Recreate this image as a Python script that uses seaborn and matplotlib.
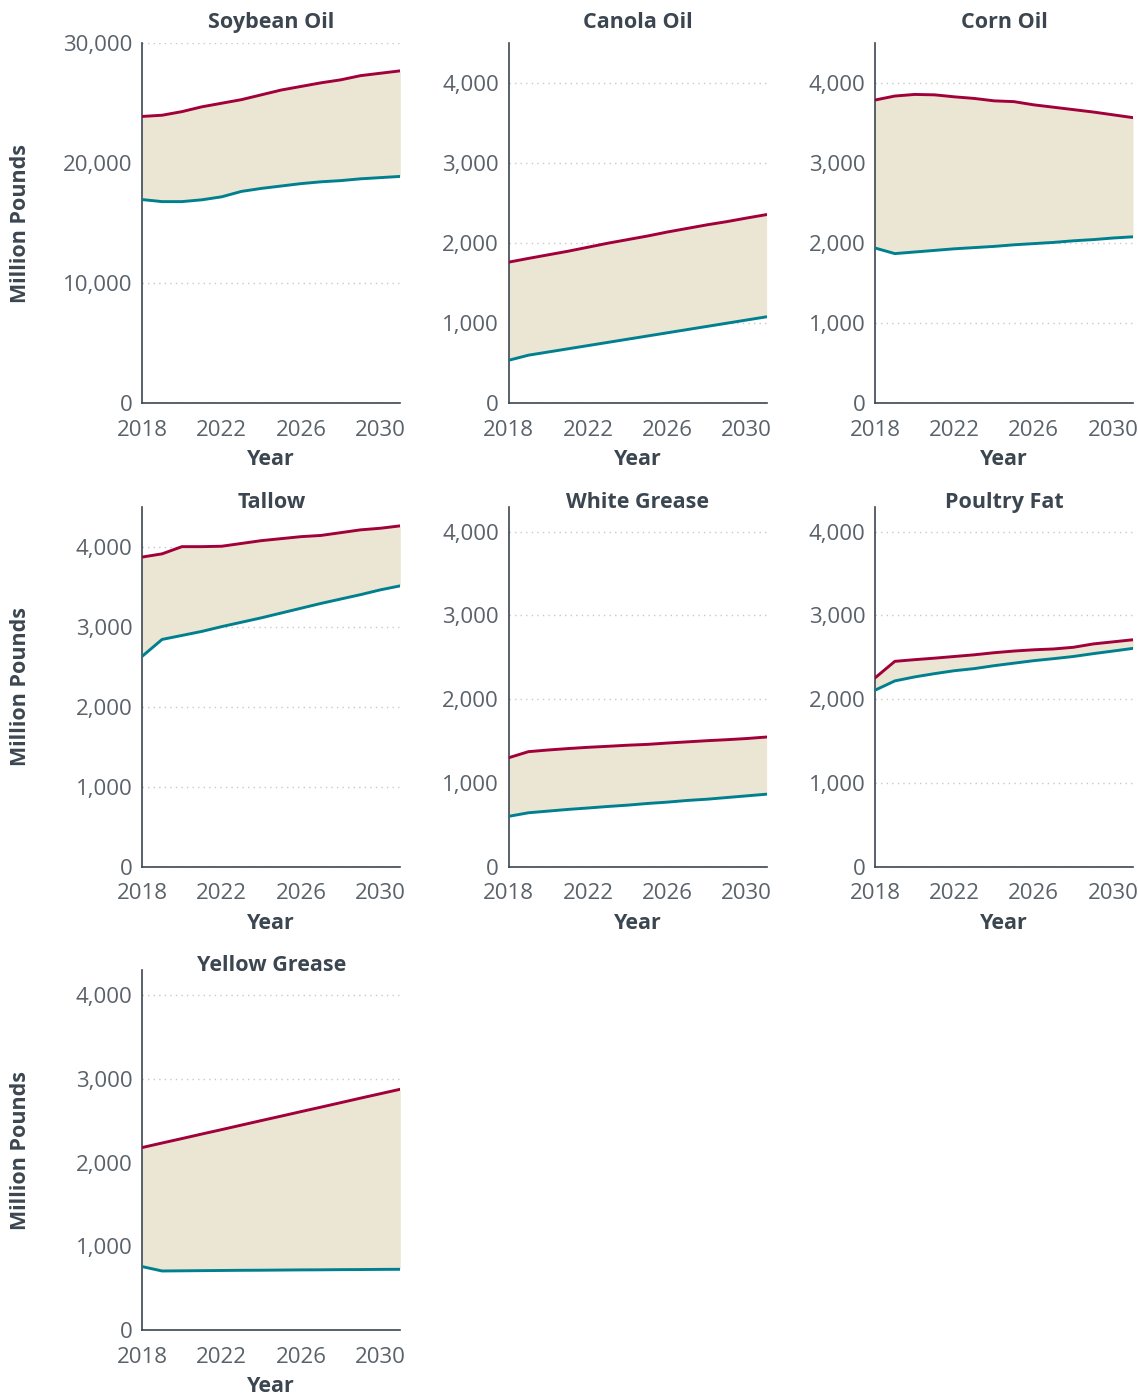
import numpy as np
import pandas as pd
import seaborn as sns
import matplotlib.pyplot as plt
from matplotlib.ticker import FuncFormatter

# data (thousand million pounds, scaled below)
years = list(range(2018, 2032))

soy_high = [23.9, 24.0, 24.3, 24.7, 25.0, 25.3, 25.7, 26.1, 26.4, 26.7, 26.95, 27.3, 27.5, 27.7]
soy_low = [16.97, 16.8, 16.8, 16.95, 17.2, 17.65, 17.9, 18.1, 18.3, 18.45, 18.55, 18.7, 18.8, 18.9]
canola_high = [1.763, 1.81, 1.855, 1.9, 1.95, 2.0, 2.045, 2.09, 2.14, 2.185, 2.23, 2.27, 2.315, 2.358]
canola_low = [0.536, 0.6, 0.64, 0.68, 0.72, 0.76, 0.8, 0.84, 0.88, 0.92, 0.96, 1.0, 1.04, 1.08]
corn_high = [3.79, 3.84, 3.86, 3.855, 3.83, 3.81, 3.78, 3.77, 3.73, 3.70, 3.67, 3.64, 3.605, 3.57]
corn_low = [1.94, 1.87, 1.89, 1.91, 1.93, 1.945, 1.96, 1.98, 1.995, 2.01, 2.03, 2.045, 2.065, 2.08]
tallow_high = [3.87, 3.91, 4.0, 4.0, 4.005, 4.04, 4.075, 4.10, 4.125, 4.14, 4.175, 4.21, 4.23, 4.26]
tallow_low = [2.63, 2.84, 2.89, 2.94, 3.0, 3.055, 3.11, 3.17, 3.23, 3.29, 3.345, 3.40, 3.46, 3.51]
white_high = [1.30, 1.373, 1.393, 1.41, 1.425, 1.437, 1.45, 1.46, 1.476, 1.49, 1.504, 1.516, 1.53, 1.548]
white_low = [0.60, 0.643, 0.663, 0.683, 0.70, 0.718, 0.734, 0.754, 0.77, 0.79, 0.805, 0.825, 0.845, 0.865]
poultry_high = [2.254, 2.452, 2.472, 2.49, 2.51, 2.53, 2.555, 2.575, 2.59, 2.60, 2.62, 2.66, 2.685, 2.71]
poultry_low = [2.107, 2.218, 2.266, 2.305, 2.34, 2.365, 2.40, 2.43, 2.46, 2.484, 2.51, 2.544, 2.575, 2.607]
yellow_high = [2.18, 2.234, 2.287, 2.341, 2.394, 2.448, 2.502, 2.555, 2.609, 2.662, 2.716, 2.77, 2.823, 2.876]
yellow_low = [0.757, 0.705, 0.707, 0.709, 0.711, 0.713, 0.714, 0.716, 0.718, 0.719, 0.721, 0.722, 0.724, 0.725]

titles = ['Soybean Oil', 'Canola Oil', 'Corn Oil', 'Tallow', 'White Grease', 'Poultry Fat', 'Yellow Grease']
highs = [soy_high, canola_high, corn_high, tallow_high, white_high, poultry_high, yellow_high]
lows = [soy_low, canola_low, corn_low, tallow_low, white_low, poultry_low, yellow_low]
ymax = [30000, 4500, 4500, 4500, 4300, 4300, 4300]

RED = '#a1003a'
TEAL = '#00808f'
FILL = '#ebe5d3'
DARK = '#3c4650'
GREY = '#59616a'

sns.set_theme(style='white')
plt.rcParams['font.family'] = ['Open Sans', 'DejaVu Sans']

fig, axes = plt.subplots(3, 3, figsize=(11.38, 13.95), dpi=100)
fig.subplots_adjust(left=0.125, right=0.9956, top=0.969, bottom=0.0466, wspace=0.42, hspace=0.2875)
axes = axes.flatten()

for i, ax in enumerate(axes):
    if i >= len(titles):
        ax.axis('off')
        continue
    scale = 1000
    df = pd.DataFrame({'Year': years,
                       'high': np.array(highs[i]) * scale,
                       'low': np.array(lows[i]) * scale})
    ax.fill_between(df['Year'], df['low'], df['high'], color=FILL, lw=0, zorder=1)
    sns.lineplot(data=df, x='Year', y='high', ax=ax, color=RED, lw=2.1, zorder=3)
    sns.lineplot(data=df, x='Year', y='low', ax=ax, color=TEAL, lw=2.1, zorder=3)

    ax.set_xlim(2018, 2031)
    ax.set_ylim(0, ymax[i])
    if i == 0:
        ax.set_yticks([0, 10000, 20000, 30000])
    else:
        ax.set_yticks([0, 1000, 2000, 3000, 4000])
    ax.set_xticks([2018, 2022, 2026, 2030])
    ax.yaxis.set_major_formatter(FuncFormatter(lambda v, p: f'{int(v):,}'))
    ax.grid(axis='y', linestyle=(0, (1, 3)), color='#c8c8c8', lw=1)
    ax.grid(axis='x', visible=False)
    sns.despine(ax=ax)
    for s in ['left', 'bottom']:
        ax.spines[s].set_color(DARK)
        ax.spines[s].set_linewidth(1.2)
    ax.tick_params(axis='both', length=0, labelsize=16, labelcolor=GREY)
    ax.tick_params(axis='x', pad=12)
    ax.tick_params(axis='y', pad=7)
    # titles of the lower rows sit right on top of the axis line
    title_pad = 11 if i < 3 else -1
    ax.set_title(titles[i], fontsize=15.5, fontweight='bold', color=DARK, pad=title_pad)
    ax.set_xlabel('Year', fontsize=15.5, fontweight='bold', color=DARK, labelpad=6)
    if i % 3 == 0:
        ax.set_ylabel('Million Pounds', fontsize=15.5, fontweight='bold', color=DARK)
        ax.yaxis.set_label_coords(-0.43, 0.5)
    else:
        ax.set_ylabel('')

fig.savefig('out.png', dpi=100, facecolor='white')
